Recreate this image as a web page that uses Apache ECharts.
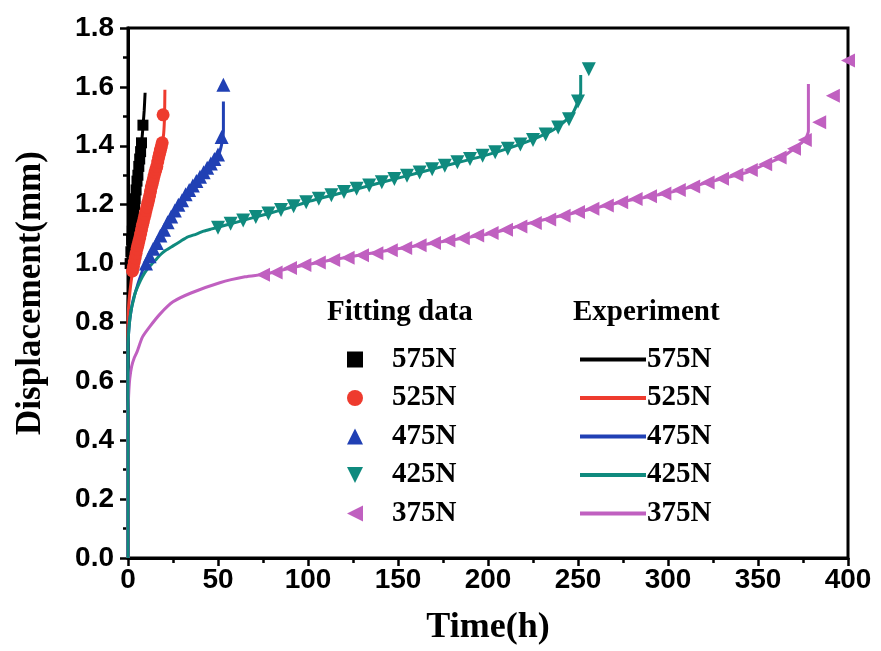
<!DOCTYPE html>
<html>
<head>
<meta charset="utf-8">
<script src="https://cdn.jsdelivr.net/npm/echarts@6/dist/echarts.min.js"></script>
<style>
html,body{margin:0;padding:0;background:#fff;}
#chart{width:881px;height:651px;}
</style>
</head>
<body>
<div id="chart"></div>
<script>
// ---- data ----
const loads = ['575N', '525N', '475N', '425N', '375N'];
const colors = ['#000000', '#ee3b2e', '#2040b4', '#0f8a7e', '#c060c0'];
const xTicks = [0, 50, 100, 150, 200, 250, 300, 350, 400];
const yTicks = [0.0, 0.2, 0.4, 0.6, 0.8, 1.0, 1.2, 1.4, 1.6, 1.8];

// Experiment curves
const t575Exp = [0, 0, 0.3, 0.7, 1.2, 2, 3, 4, 5, 6, 7, 8, 8.5, 9, 9.5];
const d575Exp = [0, 0.85, 0.9, 0.95, 1.0, 1.08, 1.16, 1.22, 1.28, 1.33, 1.38, 1.44, 1.48, 1.52, 1.58];

const t525Exp = [0, 0, 0.4, 1, 2, 4, 7, 10, 13, 16, 19, 19.8, 20.3, 20.5];
const d525Exp = [0, 0.8, 0.86, 0.9, 0.95, 1.02, 1.1, 1.18, 1.26, 1.33, 1.41, 1.44, 1.5, 1.59];

const t475Exp = [0, 0, 0.5, 1, 2, 3, 4.5, 6, 8, 9.5, 13, 16, 20, 23, 27, 30, 33, 36, 40, 43, 46, 49, 51, 52.5, 53, 53];
const d475Exp = [0, 0.72, 0.78, 0.81, 0.85, 0.88, 0.91, 0.94, 0.975, 1.0, 1.04, 1.07, 1.115, 1.15, 1.19, 1.215, 1.24, 1.265, 1.295, 1.315, 1.335, 1.355, 1.38, 1.42, 1.45, 1.55];

const t425Exp = [0, 0, 0.3, 0.7, 1.2, 2, 3, 4, 6, 8, 10, 12, 15, 18, 21, 25, 29, 33, 38, 42, 46, 51, 60, 75, 90, 100, 125, 150, 175, 200, 220, 235, 242, 247, 250, 251.5, 251.5];
const d425Exp = [0, 0.72, 0.76, 0.79, 0.82, 0.85, 0.875, 0.9, 0.93, 0.955, 0.975, 0.99, 1.01, 1.03, 1.045, 1.06, 1.075, 1.09, 1.10, 1.11, 1.117, 1.125, 1.14, 1.165, 1.19, 1.21, 1.25, 1.29, 1.33, 1.37, 1.41, 1.45, 1.48, 1.51, 1.55, 1.58, 1.64];

const t375Exp = [0, 0, 0.2, 0.5, 1, 2, 3.5, 5, 8, 12, 18, 25, 35, 51, 65, 77, 90, 107, 125, 150, 175, 200, 225, 250, 275, 300, 325, 344, 355, 363, 370, 376, 378, 378];
const d375Exp = [0, 0.49, 0.53, 0.57, 0.61, 0.65, 0.68, 0.70, 0.75, 0.785, 0.83, 0.87, 0.90, 0.935, 0.955, 0.965, 0.985, 1.005, 1.025, 1.05, 1.075, 1.10, 1.14, 1.175, 1.21, 1.24, 1.28, 1.31, 1.34, 1.36, 1.39, 1.42, 1.45, 1.61];

// Fitting data (markers)
const t575Fit = [1.2, 1.6, 2, 2.4, 2.8, 3.2, 3.6, 4, 4.5, 5, 5.5, 6, 6.5, 7, 7.5, 8.3];
const d575Fit = [1.0, 1.04, 1.08, 1.11, 1.14, 1.17, 1.2, 1.22, 1.25, 1.28, 1.3, 1.33, 1.355, 1.38, 1.41, 1.47];

const t525Fit = [2.5, 3, 3.5, 4, 4.5, 5, 5.5, 6, 6.5, 7, 7.5, 8, 8.5, 9, 9.5, 10, 10.5, 11, 11.5, 12, 12.5, 13, 13.5, 14, 14.5, 15, 15.5, 16, 16.5, 17, 17.5, 18, 18.5, 19, 19.5];
const d525Fit = [0.975, 0.99, 1.005, 1.02, 1.035, 1.05, 1.062, 1.075, 1.087, 1.1, 1.115, 1.13, 1.142, 1.155, 1.167, 1.18, 1.192, 1.205, 1.217, 1.23, 1.245, 1.26, 1.272, 1.285, 1.297, 1.31, 1.32, 1.33, 1.345, 1.36, 1.372, 1.385, 1.397, 1.41, 1.505];

const t475Fit = [10, 12, 14, 16, 18, 20, 22, 24, 26, 28, 30, 32, 34, 36, 38, 40, 42, 44, 46, 48, 50, 52, 53];
const d475Fit = [1.0, 1.025, 1.05, 1.07, 1.095, 1.115, 1.14, 1.16, 1.18, 1.2, 1.215, 1.235, 1.25, 1.265, 1.28, 1.295, 1.31, 1.325, 1.34, 1.355, 1.37, 1.43, 1.607];

const t425Fit = [50, 57, 64, 71, 78, 85, 92, 99, 106, 113, 120, 127, 134, 141, 148, 155, 162, 169, 176, 183, 190, 197, 204, 211, 218, 225, 232, 239, 245, 250, 256];
const d425Fit = [1.122, 1.135, 1.146, 1.158, 1.17, 1.182, 1.195, 1.208, 1.22, 1.232, 1.243, 1.254, 1.265, 1.276, 1.287, 1.298, 1.309, 1.32, 1.332, 1.344, 1.355, 1.366, 1.378, 1.39, 1.404, 1.42, 1.438, 1.462, 1.49, 1.55, 1.66];

const t375Fit = [75, 82, 90, 98, 106, 114, 122, 130, 138, 146, 154, 162, 170, 178, 186, 194, 202, 210, 218, 226, 234, 242, 250, 258, 266, 274, 282, 290, 298, 306, 314, 322, 330, 338, 346, 354, 362, 370, 376, 384, 391.6, 400];
const d375Fit = [0.962, 0.97, 0.985, 0.995, 1.004, 1.012, 1.02, 1.028, 1.035, 1.045, 1.053, 1.062, 1.07, 1.078, 1.086, 1.095, 1.104, 1.115, 1.126, 1.138, 1.15, 1.162, 1.175, 1.186, 1.197, 1.208, 1.219, 1.229, 1.238, 1.25, 1.262, 1.275, 1.288, 1.302, 1.318, 1.337, 1.36, 1.39, 1.42, 1.48, 1.57, 1.69];

const expT = [t575Exp, t525Exp, t475Exp, t425Exp, t375Exp];
const expD = [d575Exp, d525Exp, d475Exp, d425Exp, d375Exp];
const fitT = [t575Fit, t525Fit, t475Fit, t425Fit, t375Fit];
const fitD = [d575Fit, d525Fit, d475Fit, d425Fit, d375Fit];
const symbols = ['rect', 'circle', 'triangle', 'triangle', 'triangle'];
const rotations = [0, 0, 0, 180, 90];
const sizes = [11, 13, 14, 14, 14];
const legendIcons = [
  'path://M1.5,1.5 L8.5,1.5 L8.5,8.5 L1.5,8.5 Z',
  'circle',
  'path://M5,0 L10,10 L0,10 Z',
  'path://M0,0 L10,0 L5,10 Z',
  'path://M10,0 L10,10 L0,5 Z'
];

const pairs = (xs, ys) => xs.map((x, i) => [x, ys[i]]);

const series = [];
const lineOrder = [0, 1, 2, 4, 3];
lineOrder.forEach(i => {
  series.push({
    name: loads[i] + ' exp',
    type: 'line',
    data: pairs(expT[i], expD[i]),
    showSymbol: false,
    symbol: 'none',
    smooth: 0.2,
    lineStyle: { color: colors[i], width: 3 },
    itemStyle: { color: colors[i] },
    z: 2
  });
});
loads.forEach((l, i) => {
  series.push({
    name: l,
    type: 'scatter',
    data: pairs(fitT[i], fitD[i]),
    symbol: symbols[i],
    symbolRotate: rotations[i],
    symbolSize: sizes[i],
    itemStyle: { color: colors[i], opacity: 1 },
    z: 3
  });
});

const serif = '"Liberation Serif", "Times New Roman", serif';
const sans = '"Liberation Sans", Arial, sans-serif';
const legendText = { fontFamily: serif, fontWeight: 'bold', fontSize: 29, color: '#000', lineHeight: 29 };

const chart = echarts.init(document.getElementById('chart'), null, { renderer: 'canvas' });
chart.setOption({
  backgroundColor: '#ffffff',
  animation: false,
  grid: {
    left: 128, right: 33, top: 28, bottom: 93,
    show: true, borderColor: '#000', borderWidth: 3, backgroundColor: 'transparent'
  },
  xAxis: {
    type: 'value', min: xTicks[0], max: xTicks[xTicks.length - 1], interval: 50,
    name: 'Time(h)', nameLocation: 'middle', nameGap: 52,
    nameTextStyle: { fontFamily: serif, fontWeight: 'bold', fontSize: 36, color: '#000' },
    axisLine: { onZero: false, lineStyle: { color: '#000', width: 3 } },
    axisTick: { inside: false, length: 8, lineStyle: { color: '#000', width: 2.5 } },
    minorTick: { show: true, splitNumber: 2, length: 5, lineStyle: { color: '#000', width: 2.5 } },
    splitLine: { show: false },
    axisLabel: { fontFamily: sans, fontWeight: 'bold', fontSize: 28, color: '#000', margin: 8 }
  },
  yAxis: {
    type: 'value', min: yTicks[0], max: yTicks[yTicks.length - 1], interval: 0.2,
    name: 'Displacement(mm)', nameLocation: 'middle', nameGap: 80,
    nameTextStyle: { fontFamily: serif, fontWeight: 'bold', fontSize: 35, color: '#000' },
    axisLine: { onZero: false, lineStyle: { color: '#000', width: 3 } },
    axisTick: { inside: false, length: 8, lineStyle: { color: '#000', width: 2.5 } },
    minorTick: { show: true, splitNumber: 2, length: 5, lineStyle: { color: '#000', width: 2.5 } },
    splitLine: { show: false },
    axisLabel: {
      fontFamily: sans, fontWeight: 'bold', fontSize: 28, color: '#000', margin: 14,
      formatter: v => v.toFixed(1)
    }
  },
  legend: [
    {
      orient: 'vertical', left: 342, top: 340, itemGap: 9.5,
      itemWidth: 16, itemHeight: 16,
      data: loads.map((l, i) => ({ name: l, icon: legendIcons[i] })),
      textStyle: Object.assign({ padding: [0, 0, 0, 24] }, legendText),
      selectedMode: false
    },
    {
      orient: 'vertical', left: 575, top: 340, itemGap: 9.5,
      itemWidth: 66, itemHeight: 4, icon: 'rect',
      data: loads.map(l => l + ' exp'),
      formatter: n => n.replace(' exp', ''),
      textStyle: Object.assign({ padding: [0, 0, 0, -4] }, legendText),
      selectedMode: false
    }
  ],
  graphic: [
    { type: 'text', left: 327, top: 298, style: { text: 'Fitting data', font: 'bold 29px ' + serif, fill: '#000' } },
    { type: 'text', left: 573, top: 298, style: { text: 'Experiment', font: 'bold 29px ' + serif, fill: '#000' } }
  ],
  series: series
});
</script>
</body>
</html>
